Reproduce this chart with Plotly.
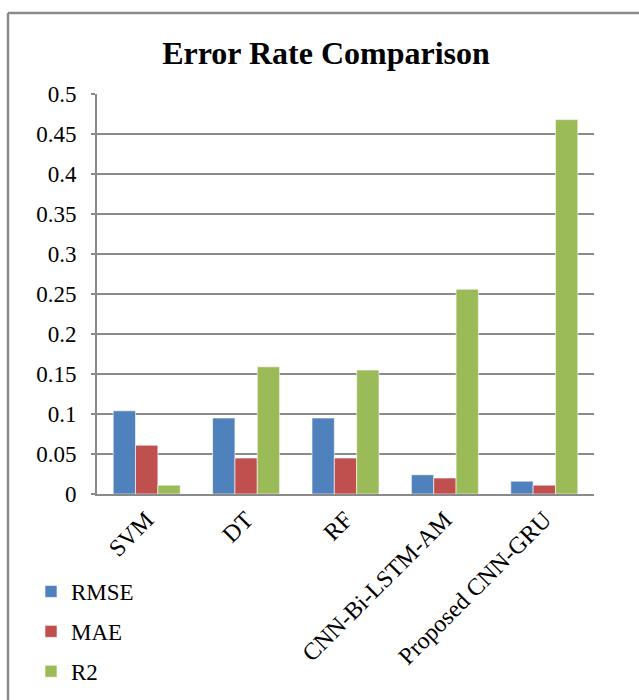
import plotly.graph_objects as go

categories = ["SVM", "DT", "RF", "CNN-Bi-LSTM-AM", "Proposed CNN-GRU"]
rmse = [0.104, 0.095, 0.095, 0.024, 0.016]
mae = [0.061, 0.045, 0.045, 0.020, 0.011]
r2 = [0.011, 0.159, 0.155, 0.256, 0.468]
series_names = ["RMSE", "MAE", "R2"]
colors = ["#4F81BD", "#C0504D", "#9BBB59"]
y_ticks = [0, 0.05, 0.1, 0.15, 0.2, 0.25, 0.3, 0.35, 0.4, 0.45, 0.5]
y_tick_labels = ["0", "0.05", "0.1", "0.15", "0.2", "0.25", "0.3", "0.35", "0.4", "0.45", "0.5"]

FONT = "Liberation Serif, Times New Roman, serif"
W, H = 639, 700
L, R, T, B = 97, 45, 94, 206
pw, ph = W - L - R, H - T - B

fig = go.Figure()
for i, (name, vals) in enumerate(zip(series_names, [rmse, mae, r2])):
    fig.add_trace(go.Bar(
        x=categories, y=vals, name=name, legendgroup=name,
        marker=dict(color=colors[i], line=dict(color="rgba(255,255,255,0.6)", width=1)),
    ))

def px_x(p):
    return (p - L) / pw

def px_y(p):
    return (H - B - p) / ph

line_col = "#8a8a8a"
shapes = [
    dict(type="line", xref="paper", yref="paper", x0=px_x(8), x1=px_x(660), y0=px_y(13), y1=px_y(13),
         line=dict(color=line_col, width=2.5)),
    dict(type="line", xref="paper", yref="paper", x0=px_x(8), x1=px_x(8), y0=px_y(13), y1=px_y(720),
         line=dict(color=line_col, width=2.5)),
]

fig.update_layout(
    width=W, height=H,
    margin=dict(l=L, r=R, t=T, b=B, autoexpand=False),
    paper_bgcolor="white", plot_bgcolor="white",
    font=dict(family=FONT, size=23, color="black"),
    title=dict(text="<b>Error Rate Comparison</b>", x=326 / W, xref="container", xanchor="center",
               y=1 - 53 / H, yref="container", yanchor="middle",
               font=dict(family=FONT, size=32, color="black")),
    barmode="group", bargap=0.326, bargroupgap=0,
    showlegend=True,
    legend=dict(x=px_x(31), y=px_y(570), xanchor="left", yanchor="top",
                traceorder="grouped", tracegroupgap=7, itemwidth=30,
                font=dict(family=FONT, size=23, color="black"),
                bgcolor="rgba(0,0,0,0)"),
    shapes=shapes,
)
fig.update_xaxes(tickangle=-45, showline=True, linecolor=line_col, linewidth=2,
                 ticks="outside", ticklen=0, showgrid=False,
                 tickfont=dict(family=FONT, size=24, color="black"))
fig.update_yaxes(range=[0, 0.5], tickvals=y_ticks, ticktext=y_tick_labels,
                 showline=True, linecolor=line_col, linewidth=2,
                 ticks="outside", ticklen=4, tickcolor=line_col, tickwidth=2,
                 ticklabelstandoff=10,
                 showgrid=True, gridcolor=line_col, gridwidth=2, zeroline=False,
                 tickfont=dict(family=FONT, size=23, color="black"))

fig.write_html("out.html", config={"displayModeBar": False},
               post_script="document.body.style.margin='0px';")
